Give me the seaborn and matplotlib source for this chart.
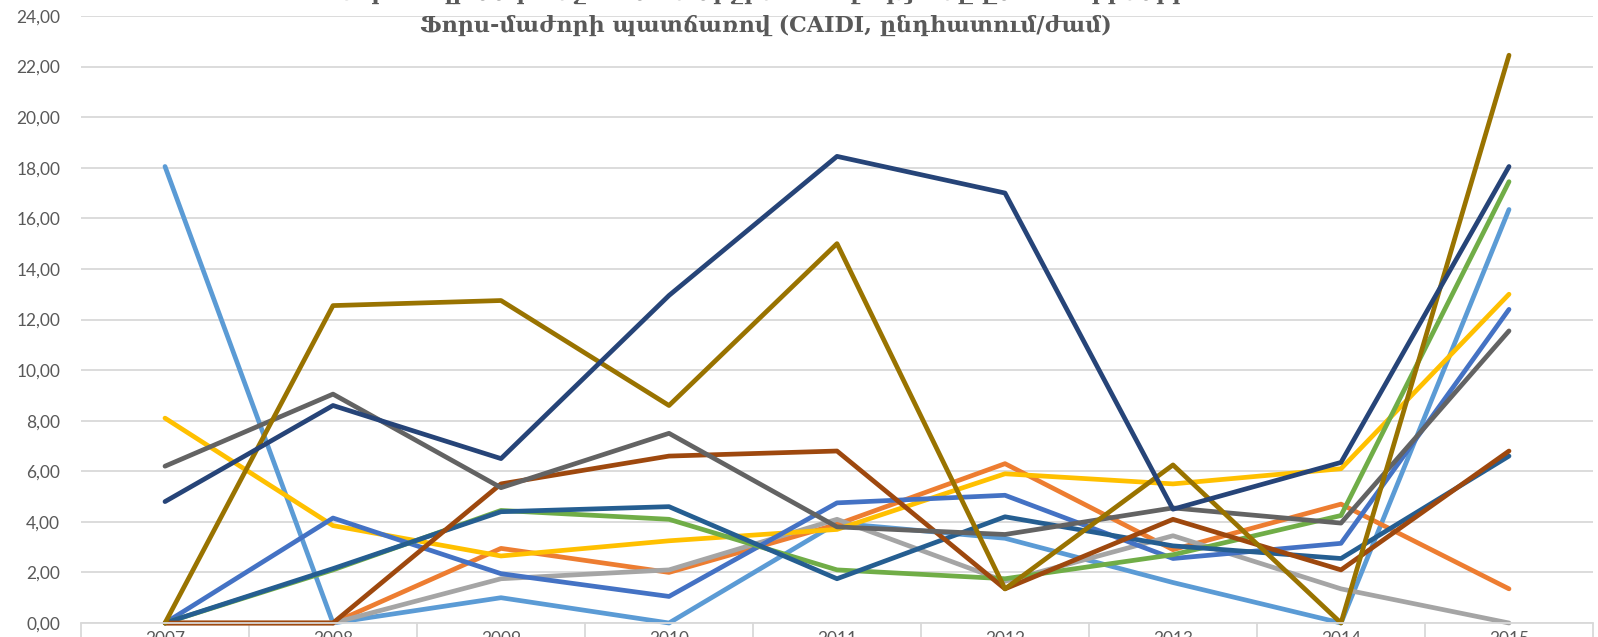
import pandas as pd
import numpy as np
import matplotlib
matplotlib.use('Agg')
import matplotlib.pyplot as plt
from matplotlib.ticker import FixedLocator, FuncFormatter
import seaborn as sns

# data
years = ['2007', '2008', '2009', '2010', '2011', '2012', '2013', '2014', '2015']
series_names = ['Շարք 1', 'Շարք 2', 'Շարք 3', 'Շարք 4', 'Շարք 5', 'Շարք 6',
                'Շարք 7', 'Շարք 8', 'Շարք 9', 'Շարք 10', 'Շարք 11']
s1 = [18.05, 0.00, 1.00, 0.00, 3.95, 3.35, 1.60, 0.00, 16.35]
s2 = [0.00, 0.00, 2.95, 2.00, 3.90, 6.30, 2.90, 4.70, 1.35]
s3 = [0.00, 0.00, 1.75, 2.10, 4.10, 1.65, 3.45, 1.35, 0.00]
s4 = [8.10, 3.85, 2.65, 3.25, 3.70, 5.90, 5.50, 6.10, 13.00]
s5 = [0.00, 4.15, 1.95, 1.05, 4.75, 5.05, 2.55, 3.15, 12.40]
s6 = [0.00, 2.10, 4.45, 4.10, 2.10, 1.75, 2.70, 4.25, 17.45]
s7 = [0.00, 2.15, 4.40, 4.60, 1.75, 4.20, 3.05, 2.55, 6.60]
s8 = [0.00, 0.00, 5.50, 6.60, 6.80, 1.35, 4.10, 2.10, 6.80]
s9 = [6.20, 9.05, 5.35, 7.50, 3.80, 3.50, 4.55, 3.95, 11.55]
s10 = [0.00, 12.55, 12.75, 8.60, 15.00, 1.35, 6.25, 0.00, 22.45]
s11 = [4.80, 8.60, 6.50, 12.95, 18.45, 17.00, 4.50, 6.35, 18.05]
all_series = [s1, s2, s3, s4, s5, s6, s7, s8, s9, s10, s11]

colors = ['#5B9BD5', '#ED7D31', '#A5A5A5', '#FFC000', '#4472C4', '#70AD47',
          '#255E91', '#9E480E', '#636363', '#997300', '#264478']

title_line1 = 'Սպառողի մեկ անջատման միջին տևողությունը ըստ տարիների՝'
title_line2 = 'Ֆորս-մաժորի պատճառով (CAIDI, ընդհատում/ժամ)'

# long table for seaborn
rows = []
for name, vals in zip(series_names, all_series):
    for i, v in enumerate(vals):
        rows.append({'series': name, 'pos': i, 'value': v})
df = pd.DataFrame(rows)

text_col = '#595959'
grid_col = '#D9D9D9'

fig = plt.figure(figsize=(15.98, 6.37), dpi=100)
ax = fig.add_axes([81 / 1598, 14 / 637, 1512 / 1598, 607 / 637])

sns.lineplot(data=df, x='pos', y='value', hue='series', hue_order=series_names,
             palette=colors, linewidth=3.4, legend=False, ax=ax,
             estimator=None, sort=False)
for line in ax.get_lines():
    line.set_clip_on(False)
    line.set_solid_capstyle('round')
    line.set_solid_joinstyle('round')

ax.set_xlim(-0.5, len(years) - 0.5)
ax.set_ylim(0, 24)
ax.set_yticks(np.arange(0, 25, 2))
ax.yaxis.set_major_formatter(FuncFormatter(lambda v, p: f'{v:.2f}'.replace('.', ',')))
ax.set_xticks(range(len(years)))
ax.set_xticklabels(years)
ax.xaxis.set_minor_locator(FixedLocator(np.arange(-0.5, len(years), 1.0)))

ax.grid(axis='y', color=grid_col, linewidth=1.3, zorder=0)
ax.set_axisbelow(True)
ax.set_xlabel('')
ax.set_ylabel('')
for side in ['top', 'right', 'left']:
    ax.spines[side].set_visible(False)
ax.spines['bottom'].set_color(grid_col)
ax.spines['bottom'].set_linewidth(1.3)

ax.tick_params(axis='y', length=0, pad=15, labelsize=12.5, labelcolor=text_col)
ax.tick_params(axis='x', which='major', length=0, pad=6, labelsize=12.5, labelcolor=text_col)
ax.tick_params(axis='x', which='minor', length=12, width=1.3, color=grid_col, direction='out')
for lab in ax.get_xticklabels() + ax.get_yticklabels():
    lab.set_family(['Lato', 'DejaVu Sans'])

fig.text(766 / 1598, 1 - 26 / 637, title_line2, ha='center', va='center',
         fontsize=16, fontweight='bold', color=text_col,
         family=['DejaVu Serif', 'DejaVu Sans'])
fig.text(766 / 1598, 1 + 6 / 637, title_line1, ha='center', va='center',
         fontsize=16, fontweight='bold', color=text_col,
         family=['DejaVu Serif', 'DejaVu Sans'])

fig.savefig('out.png', dpi=100)
